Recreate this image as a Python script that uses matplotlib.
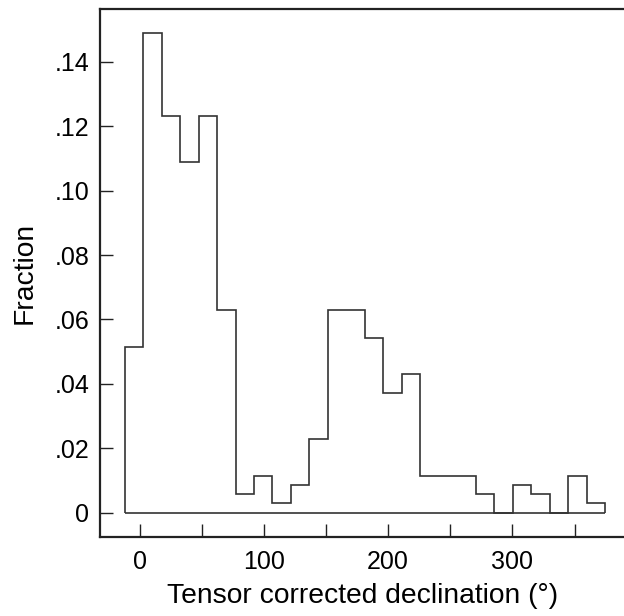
import numpy as np
import matplotlib
matplotlib.use("Agg")
from matplotlib import pyplot as plt
from matplotlib.ticker import FuncFormatter

plt.rcParams['font.family'] = ['Liberation Sans', 'DejaVu Sans']

# histogram of declination: first bin edge, bin width, fraction per bin
bin_start = -12.07
bin_width = 14.87
fraction = [0.0516, 0.1490, 0.1232, 0.1089, 0.1232, 0.0630, 0.0057, 0.0115,
            0.0029, 0.0086, 0.0229, 0.0630, 0.0630, 0.0544, 0.0372, 0.0430,
            0.0115, 0.0115, 0.0115, 0.0057, 0.0, 0.0086, 0.0057, 0.0,
            0.0115, 0.0029]
edges = bin_start + bin_width * np.arange(len(fraction) + 1)

xticks_major = [0, 100, 200, 300]
xticks_minor = [50, 150, 250, 350]
yticks = [0, 0.02, 0.04, 0.06, 0.08, 0.10, 0.12, 0.14]

fig = plt.figure(figsize=(6.24, 6.16), dpi=100)
ax = fig.add_axes([0.1607, 0.1282, 0.8393, 0.8577])

ax.stairs(fraction, edges, baseline=0, color='#333333', linewidth=1.2)
ax.hlines(0, edges[0], edges[-1], color='#333333', linewidth=1.2)

ax.set_xlim(-31.7, 389.8)
ax.set_ylim(-0.00754, 0.1565)

ax.set_xticks(xticks_major)
ax.set_xticks(xticks_minor, minor=True)
ax.set_yticks(yticks)
ax.yaxis.set_major_formatter(FuncFormatter(
    lambda v, p: '0' if v == 0 else ('%.2f' % v).lstrip('0')))

ax.tick_params(axis='both', which='both', direction='in', length=9.5,
               width=1.0, color='#222222', labelsize=18, pad=8)
ax.tick_params(axis='x', pad=9)

for s in ['left', 'bottom', 'top']:
    ax.spines[s].set_linewidth(1.6)
    ax.spines[s].set_color('#222222')
ax.spines['right'].set_visible(False)

ax.set_xlabel('Tensor corrected declination (\u00b0)', fontsize=20.3, labelpad=7)
ax.set_ylabel('Fraction', fontsize=20.3, labelpad=12)

fig.savefig('out.png', dpi=100)
